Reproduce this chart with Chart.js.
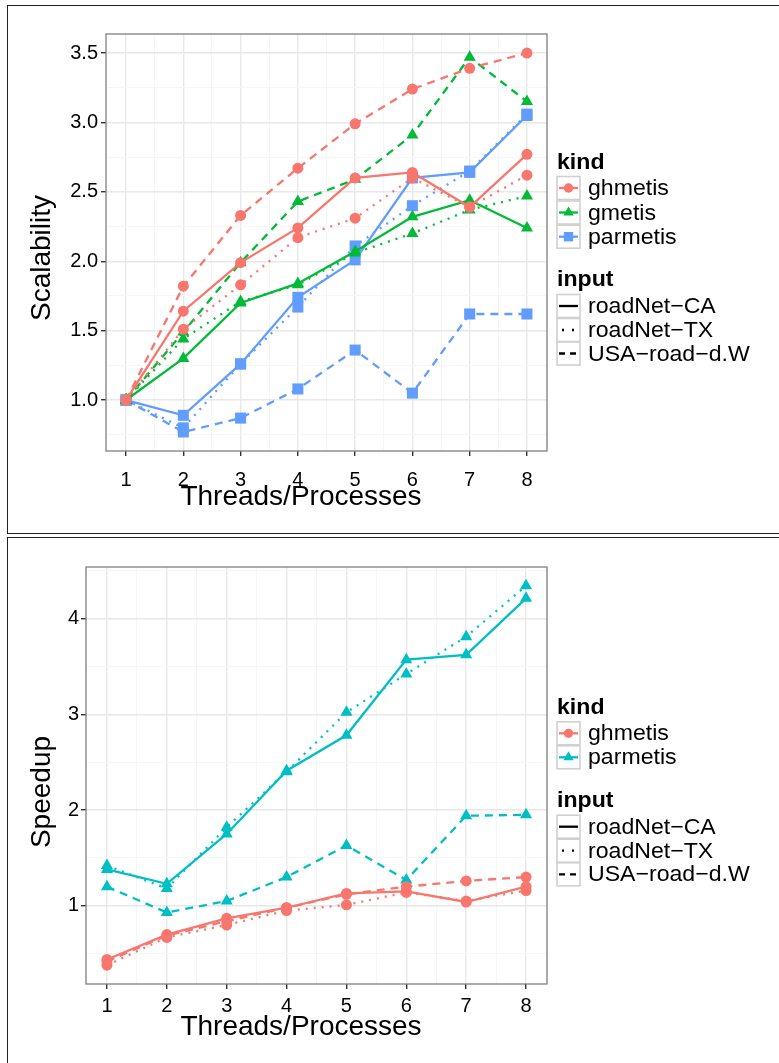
<!DOCTYPE html>
<html>
<head>
<meta charset="utf-8">
<script src="https://cdn.jsdelivr.net/npm/chart.js@4.4.1/dist/chart.umd.min.js"></script>
<style>
  html, body { margin: 0; padding: 0; background: #fff; }
  body { position: relative; width: 779px; height: 1063px; overflow: hidden; }
  .panel { position: absolute; left: 7px; width: 800px; border: 1.5px solid #222; box-sizing: border-box; }
  #p1 { top: 5px; height: 529px; }
  #p2 { top: 537px; height: 560px; }
  canvas { position: absolute; left: 0; }
</style>
</head>
<body>
<div class="panel" id="p1"></div>
<div class="panel" id="p2"></div>
<canvas id="c1" width="779" height="535" style="top:0;width:779px;height:535px"></canvas>
<canvas id="c2" width="779" height="526" style="top:537px;width:779px;height:526px"></canvas>
<script>
  const threads = [1, 2, 3, 4, 5, 6, 7, 8];
  const xTicks = [1, 1.5, 2, 2.5, 3, 3.5, 4, 4.5, 5, 5.5, 6, 6.5, 7, 7.5, 8];
  const xMajor = [1, 2, 3, 4, 5, 6, 7, 8];

  const scalTicks = [0.75, 1, 1.25, 1.5, 1.75, 2, 2.25, 2.5, 2.75, 3, 3.25, 3.5];
  const scalMajor = [1, 1.5, 2, 2.5, 3, 3.5];
  const speedTicks = [0.5, 1, 1.5, 2, 2.5, 3, 3.5, 4, 4.5];
  const speedMajor = [1, 2, 3, 4];

  const inputNames = ["roadNet\u2212CA", "roadNet\u2212TX", "USA\u2212road\u2212d.W"];

  // Scalability (top)
  const scalGhmetisCA = [1.0, 1.64, 1.99, 2.24, 2.60, 2.64, 2.39, 2.77];
  const scalGhmetisTX = [1.0, 1.51, 1.83, 2.17, 2.31, 2.60, 2.39, 2.62];
  const scalGhmetisUSA = [1.0, 1.82, 2.33, 2.67, 2.99, 3.24, 3.39, 3.50];
  const scalGmetisCA = [1.0, 1.30, 1.70, 1.84, 2.07, 2.32, 2.44, 2.24];
  const scalGmetisTX = [1.0, 1.44, 1.71, 1.83, 2.06, 2.20, 2.37, 2.47];
  const scalGmetisUSA = [1.0, 1.49, 1.99, 2.43, 2.59, 2.91, 3.47, 3.15];
  const scalParmetisCA = [1.0, 0.89, 1.26, 1.74, 2.01, 2.60, 2.64, 3.05];
  const scalParmetisTX = [1.0, 0.80, 1.26, 1.67, 2.11, 2.40, 2.65, 3.06];
  const scalParmetisUSA = [1.0, 0.77, 0.87, 1.08, 1.36, 1.05, 1.62, 1.62];

  // Speedup (bottom)
  const spGhmetisCA = [0.44, 0.70, 0.87, 0.98, 1.13, 1.15, 1.04, 1.20];
  const spGhmetisTX = [0.38, 0.67, 0.80, 0.95, 1.01, 1.14, 1.05, 1.16];
  const spGhmetisUSA = [0.42, 0.69, 0.84, 0.98, 1.12, 1.20, 1.26, 1.30];
  const spParmetisCA = [1.38, 1.23, 1.75, 2.41, 2.78, 3.57, 3.62, 4.21];
  const spParmetisTX = [1.42, 1.18, 1.82, 2.40, 3.02, 3.42, 3.81, 4.34];
  const spParmetisUSA = [1.20, 0.93, 1.05, 1.30, 1.63, 1.27, 1.94, 1.95];

  const FONT = "'Liberation Sans', Arial, sans-serif";
  const dashes = [[], [2, 6], [8, 6]];
  const marks = {
    circle: 5.5,
    triangle: 7,
    rect: 7.8
  };

  function series(name, inputIdx, values, color, shape) {
    return {
      label: name + " " + inputNames[inputIdx],
      data: threads.map((t, i) => ({ x: t, y: values[i] })),
      borderColor: color,
      backgroundColor: color,
      borderWidth: 2.3,
      borderDash: dashes[inputIdx],
      pointStyle: shape,
      pointRadius: marks[shape],
      pointBorderWidth: 0,
      tension: 0,
      fill: false
    };
  }

  // text drawn with a slight horizontal stretch, like the reference device
  function stretchText(ctx, str, x, y, sx) {
    ctx.save();
    ctx.translate(x, y);
    ctx.scale(sx, 1);
    ctx.fillText(str, 0, 0);
    ctx.restore();
  }

  function deco(spec) {
    return {
      id: "deco",
      afterDatasetsDraw(chart) {
        const a = chart.chartArea, ctx = chart.ctx;
        ctx.save();
        ctx.strokeStyle = "#7f7f7f";
        ctx.lineWidth = 1.3;
        ctx.strokeRect(a.left, a.top, a.right - a.left, a.bottom - a.top);
        ctx.restore();
      },
      afterDraw(chart) {
        const ctx = chart.ctx;
        ctx.save();
        ctx.fillStyle = "#000";
        ctx.textBaseline = "middle";
        // axis titles
        ctx.font = "28px " + FONT;
        ctx.textAlign = "center";
        ctx.fillText("Threads/Processes", spec.xTitle[0], spec.xTitle[1]);
        ctx.save();
        ctx.translate(spec.yTitle[0], spec.yTitle[1]);
        ctx.rotate(-Math.PI / 2);
        ctx.fillText(spec.yLabel, 0, 0);
        ctx.restore();

        // legend
        const lx = spec.legendX;
        ctx.textAlign = "left";
        ctx.font = "bold 22px " + FONT;
        stretchText(ctx, "kind", lx, spec.kindTitleY, 1.05);
        stretchText(ctx, "input", lx, spec.inputTitleY, 1.05);
        ctx.font = "22px " + FONT;
        const box = (y) => {
          ctx.fillStyle = "#fff";
          ctx.fillRect(lx, y - 11.5, 23, 23);
          ctx.strokeStyle = "#d0d0d0";
          ctx.lineWidth = 1.6;
          ctx.strokeRect(lx, y - 11.5, 23, 23);
        };
        spec.kindNames.forEach((name, i) => {
          const y = spec.kindRows[i];
          const color = spec.kindColors[i];
          const shape = spec.kindShapes[i];
          box(y);
          ctx.strokeStyle = color;
          ctx.lineWidth = 2.3;
          ctx.setLineDash([]);
          ctx.beginPath();
          ctx.moveTo(lx + 2, y);
          ctx.lineTo(lx + 21, y);
          ctx.stroke();
          ctx.fillStyle = color;
          Chart.helpers.drawPoint(ctx, { pointStyle: shape, radius: marks[shape] * 0.85, borderWidth: 0 }, lx + 11.5, y);
          ctx.fillStyle = "#000";
          stretchText(ctx, name, lx + 31, y + 1, 1.05);
        });
        inputNames.forEach((name, i) => {
          const y = spec.inputRows[i];
          box(y);
          ctx.strokeStyle = "#000";
          ctx.lineWidth = 2.3;
          ctx.setLineDash(i === 0 ? [] : i === 1 ? [2, 8] : [6, 5]);
          ctx.lineDashOffset = i === 1 ? -3 : 0;
          ctx.beginPath();
          ctx.moveTo(lx + 2, y);
          ctx.lineTo(lx + 21, y);
          ctx.stroke();
          ctx.setLineDash([]);
          ctx.lineDashOffset = 0;
          ctx.fillStyle = "#000";
          stretchText(ctx, name, lx + 31, y + 1, 1.05);
        });
        ctx.restore();
      }
    };
  }

  function makeChart(id, spec) {
    const tickFont = { family: FONT, size: 20 };
    return new Chart(document.getElementById(id), {
      type: "line",
      data: { datasets: spec.datasets },
      options: {
        responsive: false,
        animation: false,
        layout: { padding: { top: spec.top, right: 779 - spec.right, left: 0, bottom: 0 } },
        plugins: { legend: { display: false }, tooltip: { enabled: false } },
        scales: {
          x: {
            type: "linear",
            min: 0.65,
            max: 8.35,
            afterBuildTicks: (axis) => { axis.ticks = xTicks.map((v) => ({ value: v })); },
            afterFit: (axis) => { axis.height = spec.xAxisH; },
            border: { display: false },
            grid: {
              color: (c) => (xMajor.includes(c.tick.value) ? "#e8e8e8" : "#f6f6f6"),
              lineWidth: (c) => (xMajor.includes(c.tick.value) ? 1.4 : 1),
              tickColor: (c) => (xMajor.includes(c.tick.value) ? "#333" : "rgba(0,0,0,0)"),
              tickLength: 5
            },
            ticks: {
              autoSkip: false,
              maxRotation: 0,
              padding: spec.xPad,
              color: "#000",
              font: tickFont,
              callback: (v) => (xMajor.includes(v) ? String(v) : "")
            }
          },
          y: {
            type: "linear",
            min: spec.yMin,
            max: spec.yMax,
            afterBuildTicks: (axis) => { axis.ticks = spec.yTicks.map((v) => ({ value: v })); },
            afterFit: (axis) => { axis.width = spec.yAxisW; },
            border: { display: false },
            grid: {
              color: (c) => (spec.yMajor.includes(c.tick.value) ? "#e8e8e8" : "#f6f6f6"),
              lineWidth: (c) => (spec.yMajor.includes(c.tick.value) ? 1.4 : 1),
              tickColor: (c) => (spec.yMajor.includes(c.tick.value) ? "#333" : "rgba(0,0,0,0)"),
              tickLength: 5
            },
            ticks: {
              autoSkip: false,
              padding: spec.yPad,
              color: "#000",
              font: tickFont,
              callback: (v) => (spec.yMajor.includes(v) ? spec.yFmt(v) : "")
            }
          }
        }
      },
      plugins: [deco(spec)]
    });
  }

  const RED = "#F8766D", GREEN = "#00BA38", BLUE = "#619CFF", CYAN = "#00BFC4";

  makeChart("c1", {
    datasets: [
      series("ghmetis", 0, scalGhmetisCA, RED, "circle"),
      series("ghmetis", 1, scalGhmetisTX, RED, "circle"),
      series("ghmetis", 2, scalGhmetisUSA, RED, "circle"),
      series("gmetis", 0, scalGmetisCA, GREEN, "triangle"),
      series("gmetis", 1, scalGmetisTX, GREEN, "triangle"),
      series("gmetis", 2, scalGmetisUSA, GREEN, "triangle"),
      series("parmetis", 0, scalParmetisCA, BLUE, "rect"),
      series("parmetis", 1, scalParmetisTX, BLUE, "rect"),
      series("parmetis", 2, scalParmetisUSA, BLUE, "rect")
    ],
    top: 34, right: 547, xAxisH: 84, yAxisW: 106, xPad: 12, yPad: 3,
    yMin: 0.633, yMax: 3.637, yTicks: scalTicks, yMajor: scalMajor,
    yFmt: (v) => v.toFixed(1), yLabel: "Scalability",
    xTitle: [301, 497], yTitle: [42, 258],
    legendX: 557,
    kindNames: ["ghmetis", "gmetis", "parmetis"],
    kindColors: [RED, GREEN, BLUE],
    kindShapes: ["circle", "triangle", "rect"],
    kindTitleY: 163, kindRows: [188, 212.5, 236.7],
    inputTitleY: 280, inputRows: [306, 330, 353.5]
  });

  makeChart("c2", {
    datasets: [
      series("ghmetis", 0, spGhmetisCA, RED, "circle"),
      series("ghmetis", 1, spGhmetisTX, RED, "circle"),
      series("ghmetis", 2, spGhmetisUSA, RED, "circle"),
      series("parmetis", 0, spParmetisCA, CYAN, "triangle"),
      series("parmetis", 1, spParmetisTX, CYAN, "triangle"),
      series("parmetis", 2, spParmetisUSA, CYAN, "triangle")
    ],
    top: 30, right: 547, xAxisH: 79, yAxisW: 86, xPad: 5, yPad: 2,
    yMin: 0.184, yMax: 4.537, yTicks: speedTicks, yMajor: speedMajor,
    yFmt: (v) => String(v), yLabel: "Speedup",
    xTitle: [301, 490], yTitle: [42, 255],
    legendX: 557,
    kindNames: ["ghmetis", "parmetis"],
    kindColors: [RED, CYAN],
    kindShapes: ["circle", "triangle"],
    kindTitleY: 171.3, kindRows: [196.3, 220.3],
    inputTitleY: 263.7, inputRows: [289.7, 313.7, 337.3]
  });
</script>
</body>
</html>
